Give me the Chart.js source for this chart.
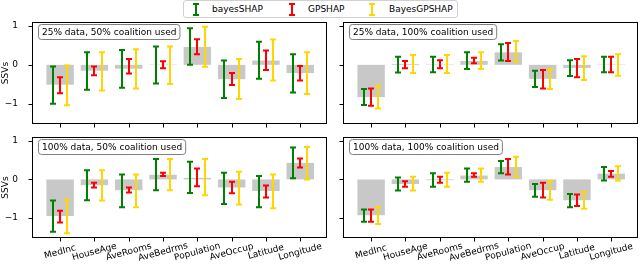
<!DOCTYPE html>
<html>
<head>
<meta charset="utf-8">
<script src="https://cdn.jsdelivr.net/npm/chart.js@4.4.0/dist/chart.umd.min.js"></script>
<style>
  html, body { margin:0; padding:0; background:#fff; }
  body { width:640px; height:265px; position:relative; overflow:hidden; font-family:"DejaVu Sans", sans-serif; }
  .panel { position:absolute; }
  #legend { position:absolute; left:183px; top:0px; width:273px; height:16px; border:1px solid #d0d0d0; border-radius:3px; background:#fff; font-size:9px; color:#000; }
  .li { position:absolute; top:2px; height:13px; line-height:13px; }
  .ico { position:absolute; top:2px; }
</style>
</head>
<body>
<div class="panel" style="left:0;top:0;width:330px;height:128px"><canvas id="c1" width="330" height="128"></canvas></div>
<div class="panel" style="left:330px;top:0;width:310px;height:128px"><canvas id="c2" width="310" height="128"></canvas></div>
<div class="panel" style="left:0;top:128px;width:330px;height:137px"><canvas id="c3" width="330" height="137"></canvas></div>
<div class="panel" style="left:330px;top:128px;width:310px;height:137px"><canvas id="c4" width="310" height="137"></canvas></div>
<div id="legend">
  <svg class="ico" style="left:8px" width="8" height="13"><line x1="4" y1="1" x2="4" y2="12" stroke="#008000" stroke-width="2"/><line x1="1" y1="1" x2="7" y2="1" stroke="#008000" stroke-width="2"/><line x1="1" y1="12" x2="7" y2="12" stroke="#008000" stroke-width="2"/></svg>
  <span class="li" style="left:28px">bayesSHAP</span>
  <svg class="ico" style="left:104px" width="8" height="13"><line x1="4" y1="1" x2="4" y2="12" stroke="#ff0000" stroke-width="2"/><line x1="1" y1="1" x2="7" y2="1" stroke="#ff0000" stroke-width="2"/><line x1="1" y1="12" x2="7" y2="12" stroke="#ff0000" stroke-width="2"/></svg>
  <span class="li" style="left:124px">GPSHAP</span>
  <svg class="ico" style="left:184px" width="8" height="13"><line x1="4" y1="1" x2="4" y2="12" stroke="#ffd700" stroke-width="2"/><line x1="1" y1="1" x2="7" y2="1" stroke="#ffd700" stroke-width="2"/><line x1="1" y1="12" x2="7" y2="12" stroke="#ffd700" stroke-width="2"/></svg>
  <span class="li" style="left:205px">BayesGPSHAP</span>
</div>
<script>
const categories = ['MedInc','HouseAge','AveRooms','AveBedrms','Population','AveOccup','Latitude','Longitude'];
const yTicks = [-1, 0, 1];
const panelTitles = ['25% data, 50% coalition used','25% data, 100% coalition used','100% data, 50% coalition used','100% data, 100% coalition used'];

// Panel 1: 25% data, 50% coalition
const p1Bar   = [-0.51,-0.15,-0.10,0.01,0.46,-0.37,0.11,-0.21];
const p1Bayes = [[-1.00,-0.04],[-0.64,0.32],[-0.59,0.38],[-0.48,0.47],[0.00,0.94],[-0.85,0.11],[-0.36,0.59],[-0.71,0.27]];
const p1GP    = [[-0.73,-0.32],[-0.27,-0.04],[-0.22,0.15],[-0.09,0.09],[0.27,0.66],[-0.52,-0.21],[-0.13,0.37],[-0.40,-0.03]];
const p1BGP   = [[-1.04,-0.02],[-0.66,0.32],[-0.61,0.40],[-0.49,0.47],[-0.05,0.98],[-0.88,0.15],[-0.40,0.65],[-0.75,0.32]];

// Panel 2: 25% data, 100% coalition
const p2Bar   = [-0.83,0.02,0.01,0.10,0.32,-0.36,-0.08,0.01];
const p2Bayes = [[-1.03,-0.62],[-0.20,0.21],[-0.19,0.21],[-0.11,0.32],[0.11,0.53],[-0.57,-0.15],[-0.29,0.12],[-0.19,0.21]];
const p2GP    = [[-1.05,-0.61],[-0.09,0.10],[-0.09,0.12],[0.04,0.18],[0.10,0.56],[-0.61,-0.13],[-0.32,0.15],[-0.19,0.21]];
const p2BGP   = [[-1.12,-0.54],[-0.21,0.25],[-0.21,0.25],[-0.11,0.32],[0.08,0.61],[-0.62,-0.11],[-0.39,0.22],[-0.28,0.27]];

// Panel 3: 100% data, 50% coalition
const p3Bar   = [-0.95,-0.15,-0.28,0.12,0.04,-0.21,-0.30,0.43];
const p3Bayes = [[-1.36,-0.55],[-0.54,0.24],[-0.72,0.13],[-0.28,0.53],[-0.35,0.46],[-0.64,0.17],[-0.72,0.09],[0.03,0.83]];
const p3GP    = [[-1.12,-0.81],[-0.21,-0.09],[-0.34,-0.21],[0.09,0.17],[-0.18,0.28],[-0.36,-0.06],[-0.47,-0.16],[0.31,0.54]];
const p3BGP   = [[-1.40,-0.53],[-0.55,0.24],[-0.72,0.13],[-0.28,0.53],[-0.41,0.53],[-0.65,0.20],[-0.75,0.13],[0.00,0.84]];

// Panel 4: 100% data, 100% coalition
const p4Bar   = [-0.93,-0.12,-0.02,0.10,0.32,-0.28,-0.54,0.15];
const p4Bayes = [[-1.10,-0.78],[-0.29,0.05],[-0.19,0.16],[-0.06,0.28],[0.16,0.48],[-0.45,-0.12],[-0.72,-0.38],[-0.03,0.32]];
const p4GP    = [[-1.10,-0.78],[-0.19,-0.05],[-0.09,0.07],[0.07,0.16],[0.13,0.53],[-0.47,-0.09],[-0.69,-0.39],[0.07,0.22]];
const p4BGP   = [[-1.16,-0.71],[-0.29,0.07],[-0.19,0.17],[-0.06,0.28],[0.07,0.59],[-0.53,-0.04],[-0.76,-0.32],[-0.03,0.34]];

const FONT = '"DejaVu Sans", sans-serif';
const COLORS = { bayes:'#008000', gp:'#ff0000', bgp:'#ffd700', bar:'#c8c8c8' };

const overlay = {
  id:'overlay',
  afterDatasetsDraw(chart, args, opts) {
    const ctx = chart.ctx, xs = chart.scales.x, ys = chart.scales.y, ca = chart.chartArea;
    ctx.save();
    ctx.beginPath(); ctx.rect(ca.left, ca.top, ca.right-ca.left, ca.bottom-ca.top); ctx.clip();
    const series = [[opts.bayes, COLORS.bayes, -0.21],[opts.gp, COLORS.gp, 0],[opts.bgp, COLORS.bgp, 0.21]];
    ctx.lineWidth = 2;
    ctx.lineCap = 'butt';
    series.forEach(([arr, col, off]) => {
      ctx.strokeStyle = col;
      arr.forEach((r, i) => {
        const x = Math.round(xs.getPixelForValue(i + off));
        const y1 = ys.getPixelForValue(r[0]), y2 = ys.getPixelForValue(r[1]);
        ctx.beginPath();
        ctx.moveTo(x, y1); ctx.lineTo(x, y2);
        ctx.moveTo(x-3, y1); ctx.lineTo(x+3, y1);
        ctx.moveTo(x-3, y2); ctx.lineTo(x+3, y2);
        ctx.stroke();
      });
    });
    ctx.restore();
  },
  afterDraw(chart, args, opts) {
    const ctx = chart.ctx, ca = chart.chartArea, xs = chart.scales.x, ys = chart.scales.y;
    ctx.save();
    // frame
    ctx.strokeStyle = '#000'; ctx.lineWidth = 1;
    const L = Math.round(ca.left)+0.5, T = Math.round(ca.top)+0.5, R = Math.round(ca.right)-0.5, B = Math.round(ca.bottom)-0.5;
    ctx.strokeRect(L, T, R-L, B-T);
    // tick marks
    ctx.beginPath();
    categories.forEach((c, i) => {
      const x = Math.round(xs.getPixelForValue(i)) + 0.5;
      ctx.moveTo(x, B); ctx.lineTo(x, B + 4);
    });
    yTicks.forEach(v => {
      const y = Math.round(ys.getPixelForValue(v)) + 0.5;
      ctx.moveTo(L, y); ctx.lineTo(L - 4, y);
    });
    ctx.stroke();
    // annotation box
    ctx.font = '9px ' + FONT;
    const tw = ctx.measureText(opts.title).width;
    const bx = Math.round(ca.left) + 6.5, by = Math.round(ca.top) + 2.5;
    ctx.beginPath();
    ctx.roundRect(bx, by, tw + 7, 15, 3);
    ctx.fillStyle = '#fff'; ctx.fill();
    ctx.strokeStyle = '#7f7f7f'; ctx.lineWidth = 1; ctx.stroke();
    ctx.fillStyle = '#000'; ctx.textBaseline = 'middle'; ctx.textAlign = 'left';
    ctx.fillText(opts.title, bx + 3.5, by + 8);
    // rotated x labels
    if (opts.xlabels) {
      ctx.textAlign = 'center'; ctx.textBaseline = 'middle';
      categories.forEach((c, i) => {
        const x = xs.getPixelForValue(i);
        ctx.save();
        ctx.translate(x, ca.bottom + 14);
        ctx.rotate(-15 * Math.PI / 180);
        ctx.fillText(c, 0, 0);
        ctx.restore();
      });
    }
    ctx.restore();
  }
};

function makePanel(id, bars, bayes, gp, bgp, title, opt) {
  new Chart(document.getElementById(id), {
    type:'bar',
    data:{ datasets:[{ data: bars.map((v,i)=>({x:i, y:v})), backgroundColor:COLORS.bar, borderWidth:0, barPercentage:0.8, categoryPercentage:1.0 }] },
    options:{
      responsive:false, animation:false, maintainAspectRatio:false,
      layout:{ padding:{ top:opt.top, right:opt.right, left:0, bottom:0 } },
      plugins:{ legend:{display:false}, tooltip:{enabled:false},
        overlay:{ bayes, gp, bgp, title, xlabels:opt.xlabels } },
      scales:{
        x:{ type:'linear', min:-0.82, max:7.78, offset:false,
            ticks:{ display:false, stepSize:1, includeBounds:false },
            grid:{ display:false, offset:false },
            border:{ display:false },
            afterFit(s){ s.height = opt.xh; s.paddingLeft = 0; s.paddingRight = 0; s.paddingTop = 0; s.paddingBottom = 0; } },
        y:{ min:-1.52, max:1.10,
            afterBuildTicks(s){ s.ticks = yTicks.map(v=>({value:v})); },
            ticks:{ display:opt.ylabels, font:{family:FONT, size:9}, color:'#000', padding:6,
                    callback:(v)=> v < 0 ? '\u2212' + Math.abs(v) : String(v) },
            grid:{ display:false },
            border:{ display:false },
            title:{ display:opt.ylabels, text:'SSVs', font:{family:FONT, size:9}, color:'#000', padding:{top:0,bottom:0} },
            afterFit(s){ s.width = opt.yw; s.paddingTop = 0; s.paddingBottom = 0; s.paddingLeft = 0; s.paddingRight = 0; } }
      }
    },
    plugins:[overlay]
  });
}

makePanel('c1', p1Bar, p1Bayes, p1GP, p1BGP, panelTitles[0], {top:22, right:3, xh:4, yw:32, ylabels:true, xlabels:false});
makePanel('c2', p2Bar, p2Bayes, p2GP, p2BGP, panelTitles[1], {top:22, right:2, xh:4, yw:13, ylabels:false, xlabels:false});
makePanel('c3', p3Bar, p3Bayes, p3GP, p3BGP, panelTitles[2], {top:9, right:3, xh:27, yw:32, ylabels:true, xlabels:true});
makePanel('c4', p4Bar, p4Bayes, p4GP, p4BGP, panelTitles[3], {top:9, right:2, xh:27, yw:13, ylabels:false, xlabels:true});
</script>
</body>
</html>
